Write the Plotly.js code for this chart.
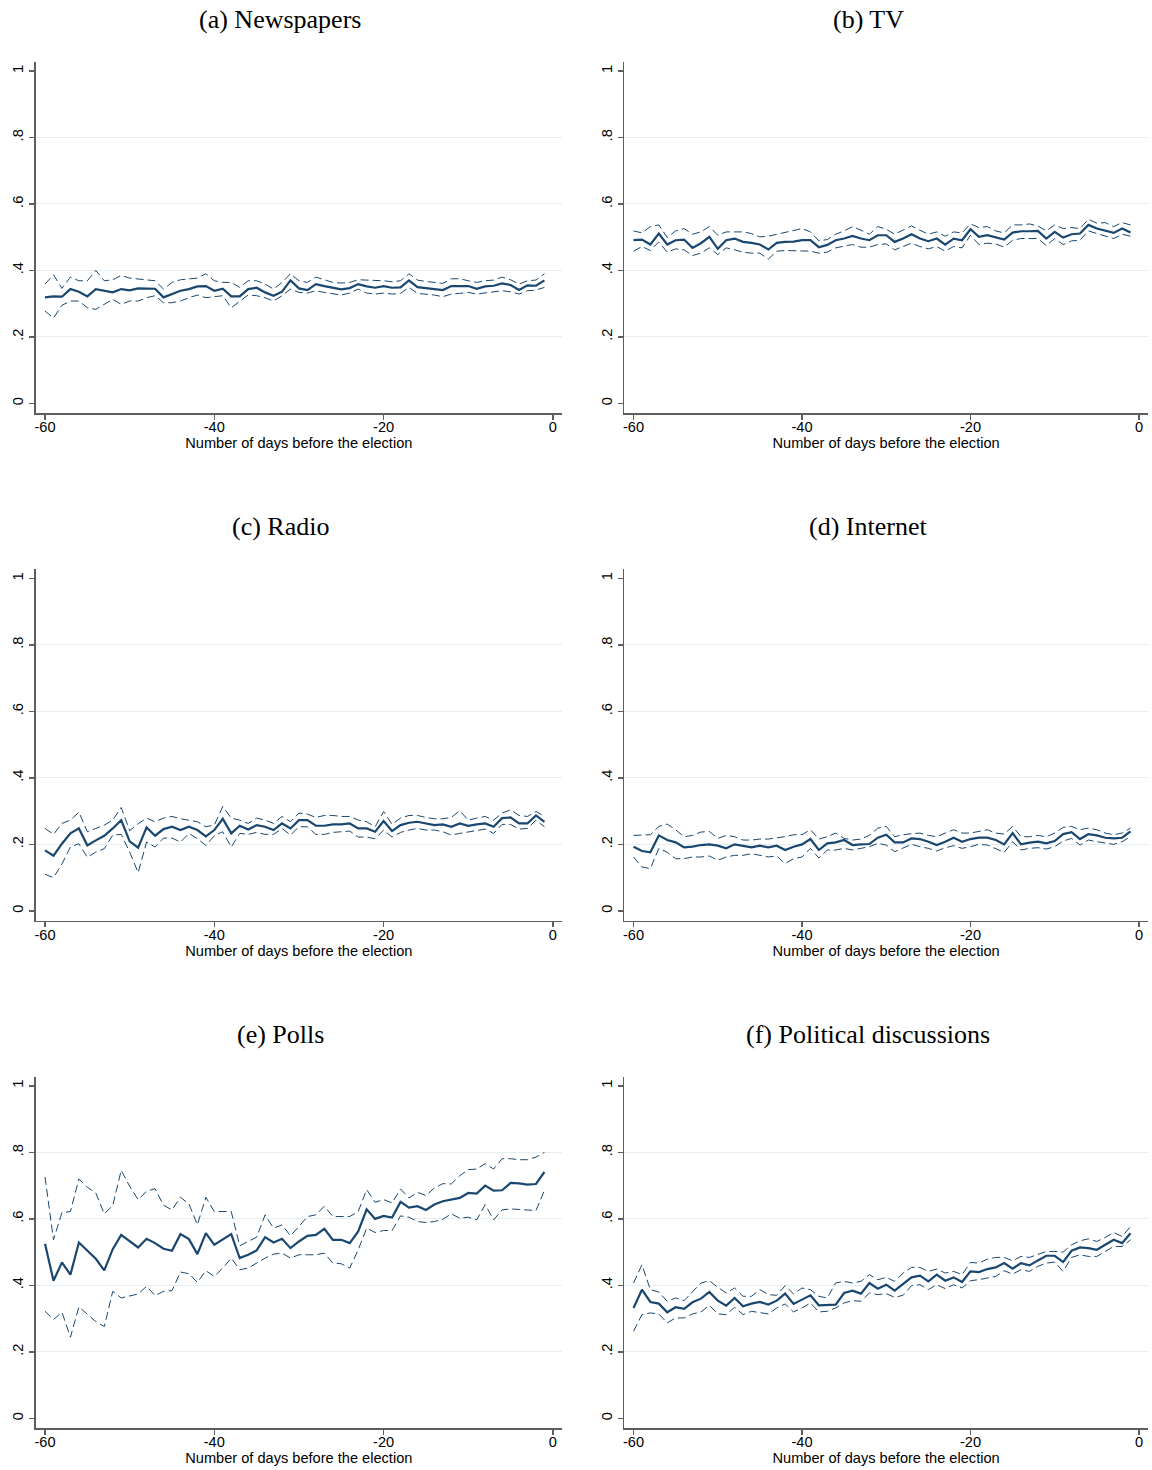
<!DOCTYPE html>
<html>
<head>
<meta charset="utf-8">
<script src="https://cdn.plot.ly/plotly-3.0.1.min.js"></script>
<style>html,body{margin:0;padding:0;background:#fff;}#chart{width:1152px;height:1470px;}</style>
</head>
<body>
<div id="chart"></div>
<script>
// ---- data ----
const days = [-60,-59,-58,-57,-56,-55,-54,-53,-52,-51,-50,-49,-48,-47,-46,-45,-44,-43,-42,-41,
  -40,-39,-38,-37,-36,-35,-34,-33,-32,-31,-30,-29,-28,-27,-26,-25,-24,-23,-22,-21,
  -20,-19,-18,-17,-16,-15,-14,-13,-12,-11,-10,-9,-8,-7,-6,-5,-4,-3,-2,-1];

const panelTitles = ["(a) Newspapers","(b) TV","(c) Radio","(d) Internet","(e) Polls","(f) Political discussions"];
const xTickVals = [-60,-40,-20,0];
const xTickText = ["-60","-40","-20","0"];
const yTickVals = [0,0.2,0.4,0.6,0.8,1];
const yTickText = ["0",".2",".4",".6",".8","1"];
const yGridVals = [0.2,0.4,0.6,0.8];
const xTitle = "Number of days before the election";

const newspapersMean = [0.319,0.322,0.321,0.344,0.336,0.322,0.344,0.339,0.334,0.344,0.340,0.346,0.345,0.345,0.319,0.329,0.339,0.344,0.352,0.353,0.339,0.345,0.322,0.322,0.344,0.348,0.334,0.324,0.336,0.370,0.346,0.341,0.359,0.353,0.347,0.343,0.347,0.359,0.352,0.348,0.353,0.348,0.349,0.370,0.350,0.347,0.345,0.341,0.353,0.352,0.353,0.345,0.352,0.354,0.361,0.356,0.341,0.355,0.354,0.370];
const newspapersUpper = [0.359,0.387,0.346,0.380,0.369,0.369,0.400,0.369,0.372,0.385,0.377,0.375,0.372,0.369,0.344,0.364,0.372,0.375,0.377,0.390,0.369,0.364,0.364,0.349,0.369,0.369,0.359,0.344,0.364,0.390,0.369,0.364,0.380,0.372,0.364,0.362,0.364,0.372,0.371,0.371,0.369,0.366,0.369,0.390,0.371,0.367,0.364,0.361,0.375,0.375,0.369,0.364,0.369,0.371,0.380,0.372,0.359,0.369,0.371,0.390];
const newspapersLower = [0.278,0.257,0.295,0.308,0.308,0.288,0.283,0.298,0.313,0.298,0.308,0.308,0.318,0.324,0.303,0.303,0.308,0.318,0.326,0.318,0.321,0.324,0.288,0.308,0.326,0.324,0.318,0.308,0.324,0.344,0.334,0.332,0.339,0.334,0.329,0.326,0.332,0.344,0.332,0.329,0.332,0.329,0.331,0.349,0.331,0.329,0.326,0.321,0.329,0.331,0.334,0.329,0.332,0.336,0.339,0.336,0.329,0.339,0.341,0.349];

const tvMean = [0.491,0.493,0.478,0.511,0.478,0.491,0.493,0.468,0.482,0.501,0.465,0.491,0.496,0.486,0.483,0.478,0.463,0.483,0.486,0.487,0.491,0.491,0.470,0.477,0.491,0.496,0.504,0.496,0.491,0.506,0.506,0.486,0.496,0.509,0.496,0.488,0.496,0.478,0.496,0.491,0.524,0.501,0.506,0.499,0.493,0.514,0.518,0.518,0.519,0.496,0.516,0.499,0.509,0.511,0.537,0.526,0.519,0.513,0.526,0.514];
const tvUpper = [0.519,0.513,0.532,0.537,0.499,0.519,0.526,0.509,0.516,0.532,0.506,0.516,0.516,0.516,0.511,0.501,0.503,0.509,0.516,0.521,0.526,0.516,0.489,0.493,0.509,0.519,0.532,0.521,0.509,0.532,0.524,0.509,0.521,0.534,0.521,0.509,0.516,0.503,0.516,0.513,0.540,0.529,0.532,0.519,0.513,0.537,0.537,0.540,0.534,0.519,0.537,0.526,0.529,0.526,0.554,0.542,0.544,0.532,0.544,0.537];
const tvLower = [0.458,0.472,0.460,0.486,0.455,0.465,0.462,0.445,0.452,0.468,0.448,0.468,0.462,0.455,0.452,0.452,0.434,0.458,0.460,0.460,0.460,0.458,0.452,0.455,0.468,0.472,0.478,0.470,0.470,0.478,0.480,0.462,0.472,0.482,0.472,0.465,0.472,0.458,0.472,0.468,0.506,0.478,0.482,0.480,0.470,0.491,0.496,0.496,0.496,0.475,0.496,0.478,0.489,0.491,0.519,0.511,0.503,0.496,0.509,0.503];

const radioMean = [0.182,0.166,0.202,0.233,0.248,0.197,0.212,0.226,0.248,0.273,0.209,0.190,0.251,0.226,0.246,0.253,0.243,0.253,0.243,0.224,0.243,0.277,0.233,0.256,0.245,0.258,0.253,0.243,0.263,0.248,0.273,0.273,0.256,0.256,0.260,0.260,0.263,0.248,0.248,0.238,0.270,0.240,0.258,0.265,0.268,0.263,0.258,0.260,0.253,0.263,0.256,0.260,0.263,0.253,0.279,0.281,0.263,0.263,0.287,0.268];
const radioUpper = [0.248,0.230,0.263,0.273,0.297,0.238,0.248,0.258,0.273,0.311,0.241,0.262,0.279,0.268,0.279,0.284,0.277,0.273,0.268,0.253,0.258,0.314,0.279,0.273,0.263,0.279,0.273,0.263,0.284,0.268,0.294,0.291,0.281,0.287,0.287,0.284,0.284,0.273,0.268,0.253,0.299,0.260,0.279,0.287,0.287,0.281,0.277,0.277,0.281,0.301,0.273,0.279,0.284,0.273,0.294,0.304,0.287,0.284,0.299,0.284];
const radioLower = [0.110,0.100,0.141,0.192,0.202,0.161,0.177,0.187,0.228,0.230,0.177,0.115,0.207,0.192,0.219,0.219,0.207,0.233,0.217,0.197,0.226,0.238,0.192,0.233,0.230,0.236,0.230,0.230,0.248,0.228,0.253,0.253,0.230,0.230,0.236,0.238,0.240,0.222,0.222,0.217,0.243,0.222,0.236,0.243,0.248,0.243,0.243,0.238,0.228,0.233,0.238,0.243,0.246,0.233,0.260,0.260,0.246,0.248,0.273,0.253];

const internetMean = [0.193,0.180,0.176,0.227,0.213,0.206,0.191,0.193,0.198,0.200,0.196,0.188,0.200,0.196,0.191,0.196,0.191,0.196,0.183,0.193,0.200,0.216,0.183,0.203,0.206,0.213,0.198,0.200,0.201,0.220,0.229,0.206,0.206,0.218,0.216,0.208,0.198,0.208,0.220,0.208,0.216,0.220,0.220,0.213,0.200,0.234,0.200,0.205,0.208,0.203,0.210,0.231,0.237,0.216,0.231,0.227,0.220,0.218,0.220,0.239];
const internetUpper = [0.227,0.229,0.229,0.254,0.261,0.244,0.223,0.227,0.237,0.239,0.218,0.227,0.223,0.213,0.213,0.216,0.216,0.220,0.223,0.229,0.229,0.244,0.216,0.223,0.234,0.218,0.213,0.216,0.227,0.249,0.254,0.223,0.229,0.232,0.234,0.227,0.223,0.234,0.244,0.234,0.234,0.239,0.244,0.234,0.231,0.254,0.223,0.223,0.227,0.223,0.234,0.251,0.254,0.244,0.249,0.244,0.234,0.229,0.234,0.249];
const internetLower = [0.162,0.132,0.127,0.188,0.176,0.157,0.157,0.162,0.162,0.165,0.152,0.162,0.167,0.167,0.172,0.167,0.162,0.165,0.142,0.157,0.162,0.188,0.159,0.183,0.183,0.188,0.183,0.188,0.193,0.203,0.198,0.178,0.188,0.200,0.193,0.188,0.180,0.190,0.196,0.188,0.193,0.200,0.198,0.188,0.176,0.208,0.183,0.188,0.190,0.186,0.193,0.210,0.218,0.198,0.213,0.208,0.203,0.200,0.208,0.223];

const pollsMean = [0.525,0.414,0.469,0.432,0.529,0.504,0.480,0.445,0.509,0.552,0.532,0.514,0.540,0.527,0.510,0.504,0.554,0.539,0.494,0.557,0.522,0.537,0.554,0.482,0.492,0.505,0.545,0.529,0.540,0.512,0.532,0.549,0.552,0.570,0.537,0.537,0.527,0.562,0.629,0.600,0.609,0.604,0.651,0.634,0.638,0.627,0.643,0.653,0.658,0.663,0.678,0.676,0.700,0.685,0.686,0.708,0.707,0.703,0.705,0.741];
const pollsUpper = [0.726,0.537,0.619,0.622,0.720,0.695,0.678,0.615,0.640,0.746,0.698,0.658,0.683,0.691,0.641,0.627,0.665,0.645,0.582,0.665,0.622,0.622,0.622,0.519,0.532,0.545,0.612,0.572,0.582,0.549,0.577,0.607,0.612,0.638,0.607,0.607,0.607,0.622,0.688,0.650,0.658,0.648,0.690,0.663,0.680,0.670,0.693,0.706,0.705,0.730,0.748,0.750,0.766,0.750,0.781,0.781,0.778,0.778,0.786,0.800];
const pollsLower = [0.322,0.297,0.319,0.244,0.335,0.314,0.291,0.276,0.382,0.362,0.369,0.374,0.397,0.369,0.382,0.384,0.440,0.435,0.409,0.444,0.427,0.452,0.482,0.447,0.452,0.467,0.482,0.494,0.497,0.482,0.492,0.492,0.492,0.497,0.467,0.465,0.452,0.507,0.572,0.559,0.565,0.565,0.609,0.605,0.592,0.589,0.592,0.599,0.615,0.602,0.605,0.597,0.643,0.597,0.627,0.630,0.629,0.627,0.625,0.685];

const discussMean = [0.332,0.387,0.350,0.345,0.319,0.334,0.329,0.349,0.360,0.380,0.354,0.339,0.362,0.337,0.345,0.350,0.342,0.354,0.375,0.344,0.357,0.370,0.340,0.342,0.342,0.377,0.384,0.375,0.407,0.390,0.402,0.384,0.404,0.424,0.429,0.412,0.432,0.414,0.424,0.410,0.442,0.440,0.449,0.454,0.467,0.450,0.467,0.460,0.475,0.489,0.489,0.470,0.504,0.514,0.512,0.507,0.522,0.537,0.527,0.557];
const discussUpper = [0.407,0.462,0.387,0.380,0.352,0.362,0.354,0.382,0.407,0.414,0.394,0.377,0.392,0.367,0.367,0.387,0.372,0.370,0.399,0.374,0.392,0.387,0.367,0.362,0.407,0.412,0.407,0.412,0.432,0.417,0.424,0.412,0.437,0.454,0.454,0.442,0.449,0.437,0.442,0.432,0.469,0.467,0.479,0.484,0.484,0.474,0.487,0.484,0.494,0.502,0.502,0.500,0.522,0.534,0.540,0.532,0.544,0.559,0.547,0.577];
const discussLower = [0.262,0.312,0.317,0.314,0.287,0.302,0.302,0.314,0.320,0.340,0.314,0.312,0.334,0.312,0.322,0.317,0.314,0.332,0.344,0.320,0.332,0.347,0.320,0.322,0.332,0.347,0.354,0.352,0.377,0.372,0.375,0.364,0.370,0.399,0.402,0.387,0.402,0.390,0.402,0.392,0.414,0.417,0.422,0.427,0.444,0.434,0.447,0.442,0.457,0.467,0.470,0.442,0.484,0.492,0.487,0.487,0.502,0.517,0.517,0.537];

const panelData = [
  [newspapersMean, newspapersUpper, newspapersLower],
  [tvMean, tvUpper, tvLower],
  [radioMean, radioUpper, radioLower],
  [internetMean, internetUpper, internetLower],
  [pollsMean, pollsUpper, pollsLower],
  [discussMean, discussUpper, discussLower]
];

// ---- layout geometry / styles ----
const navy = "#1a476f";
const axisGrey = "#5e5e5e";
const gridColor = "#e6eef0";
const sansFont = "Liberation Sans, Arial, sans-serif";
const serifFont = "Liberation Serif, Times New Roman, serif";
const colDomains = [[0.0310, 0.4878], [0.5419, 0.9965]];
const rowDomains = [[0.7188, 0.9580], [0.3736, 0.6128], [0.0284, 0.2676]];
const titleX = [0.2431, 0.7535];
const titleY = [0.9870, 0.6415, 0.2960];

const traces = [];
const layout = {
  width: 1152, height: 1470,
  margin: {l: 0, r: 0, t: 0, b: 0},
  paper_bgcolor: "#ffffff", plot_bgcolor: "#ffffff",
  showlegend: false,
  annotations: []
};

for (let i = 0; i < 6; i++) {
  const n = i + 1;
  const row = Math.floor(i / 2), col = i % 2;
  const xa = "x" + n, ya = "y" + n, yg = "y" + (n + 6);
  const [m, u, l] = panelData[i];
  traces.push({x: [], y: [], xaxis: xa, yaxis: yg, mode: "lines", hoverinfo: "skip"});
  traces.push({x: days, y: u, xaxis: xa, yaxis: ya, mode: "lines",
    line: {color: navy, width: 1, dash: "8px,4px"}});
  traces.push({x: days, y: l, xaxis: xa, yaxis: ya, mode: "lines",
    line: {color: navy, width: 1, dash: "8px,4px"}});
  traces.push({x: days, y: m, xaxis: xa, yaxis: ya, mode: "lines",
    line: {color: navy, width: 2.2}});

  layout["xaxis" + n] = {
    domain: colDomains[col], anchor: ya, range: [-61.1, 1.07],
    tickmode: "array", tickvals: xTickVals, ticktext: xTickText,
    ticks: "outside", ticklen: 5, tickwidth: 1.5, tickcolor: axisGrey,
    ticklabelstandoff: -5,
    showline: true, linecolor: axisGrey, linewidth: 1.5,
    showgrid: false, zeroline: false,
    tickfont: {family: sansFont, size: 14.6, color: "#000"},
    title: {text: xTitle, font: {family: sansFont, size: 14.6, color: "#000"}, standoff: 2},
    automargin: false, fixedrange: true
  };
  layout["yaxis" + n] = {
    domain: rowDomains[row], anchor: xa, range: [-0.030, 1.028],
    tickmode: "array", tickvals: yTickVals, ticktext: yTickText, tickangle: -90,
    ticks: "outside", ticklen: 5, tickwidth: 1.5, tickcolor: axisGrey,
    showline: true, linecolor: axisGrey, linewidth: 1.5,
    showgrid: false, zeroline: false,
    tickfont: {family: sansFont, size: 14.6, color: "#000"},
    automargin: false, fixedrange: true
  };
  layout["yaxis" + (n + 6)] = {
    overlaying: ya, anchor: xa, range: [-0.030, 1.028],
    tickmode: "array", tickvals: yGridVals,
    showticklabels: false, ticks: "", showline: false, zeroline: false,
    showgrid: true, gridcolor: gridColor, gridwidth: 1,
    automargin: false, fixedrange: true
  };
  layout.annotations.push({
    text: panelTitles[i], xref: "paper", yref: "paper",
    x: titleX[col], y: titleY[row], xanchor: "center", yanchor: "middle",
    showarrow: false, font: {family: serifFont, size: 26, color: "#000"}
  });
}

Plotly.newPlot("chart", traces, layout, {staticPlot: true, displayModeBar: false});
</script>
</body>
</html>
